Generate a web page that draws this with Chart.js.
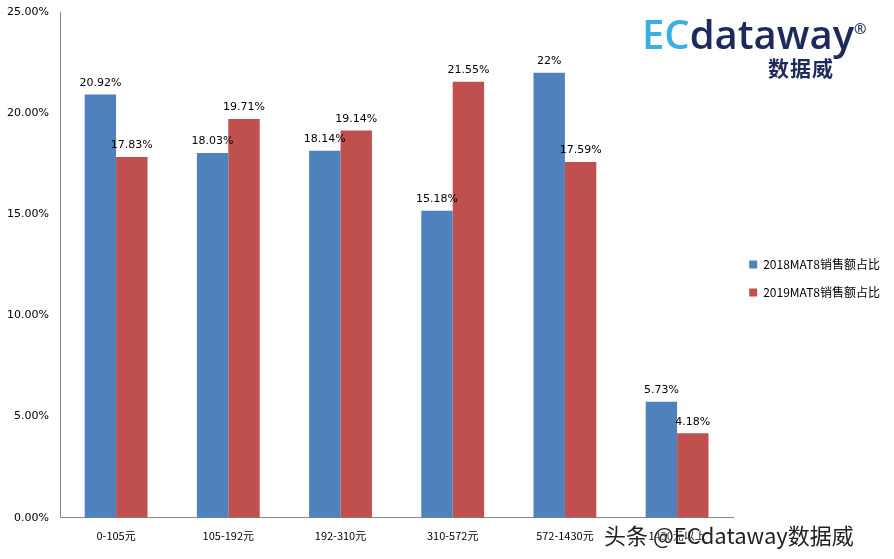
<!DOCTYPE html>
<html><head><meta charset="utf-8">
<script src="https://cdn.jsdelivr.net/npm/chart.js@4"></script>
<style>
body{margin:0;background:#fff;font-family:"Noto Sans CJK SC","DejaVu Sans",sans-serif}
#wrap{position:relative;width:894px;height:559px}
#logo{position:absolute;left:642px;top:14px;font-family:"Open Sans",sans-serif;font-weight:600;font-size:40px;line-height:40px;color:#1d2a5b}
#logo span{color:#3ab0e2}
#logo sup{font-size:15px;vertical-align:top;position:relative;top:-6px}
#logo2{position:absolute;left:768px;top:52px;font-size:21px;color:#1d2a5b;letter-spacing:1px;font-weight:bold}
#wm{position:absolute;left:604px;top:518px;font-size:22px;color:#222;text-shadow:0 0 2px #fff,0 0 2px #fff}
</style></head><body>
<div id="wrap"><canvas id="c" width="894" height="559"></canvas>
<div id="logo"><span>EC</span>dataway<sup>®</sup></div>
<div id="logo2">数据威</div>
<div id="wm">头条 @ECdataway数据威</div></div>
<script>
const categories=["0-105元","105-192元","192-310元","310-572元","572-1430元","1430元以上"];
const s2018=[20.92,18.03,18.14,15.18,22,5.73];
const s2019=[17.83,19.71,19.14,21.55,17.59,4.18];
const labels2018=["20.92%","18.03%","18.14%","15.18%","22%","5.73%"];
const labels2019=["17.83%","19.71%","19.14%","21.55%","17.59%","4.18%"];
const lbl={id:'lbl',afterDatasetsDraw(ch){const c=ch.ctx;c.save();c.font='11px "DejaVu Sans"';c.fillStyle='#000';c.textAlign='center';c.textBaseline='bottom';
[labels2018,labels2019].forEach((L,i)=>{ch.getDatasetMeta(i).data.forEach((b,j)=>{c.fillText(L[j],b.x,b.y-6);});});c.restore();}};
new Chart(document.getElementById('c'),{type:'bar',
data:{labels:categories,datasets:[
{label:'2018MAT8销售额占比',data:s2018,backgroundColor:'#4f81bd'},
{label:'2019MAT8销售额占比',data:s2019,backgroundColor:'#c0504d'}]},
options:{responsive:false,animation:false,layout:{padding:{top:12,right:4,bottom:14,left:0}},
datasets:{bar:{categoryPercentage:0.56,barPercentage:1}},
plugins:{legend:{position:'right',labels:{boxWidth:8,boxHeight:8,font:{size:12,family:'"Noto Sans CJK SC"'},color:'#000',padding:16}},tooltip:{enabled:false}},
scales:{x:{grid:{display:false},border:{color:'#888'},ticks:{color:'#000',font:{size:11,family:'"Noto Sans CJK SC"'}}},
y:{min:0,max:25,afterFit:s=>{s.width=60;},grid:{display:false},border:{color:'#888'},ticks:{stepSize:5,color:'#000',font:{size:11,family:'"DejaVu Sans"'},callback:v=>v.toFixed(2)+'%'}}}},
plugins:[lbl]});
</script></body></html>
